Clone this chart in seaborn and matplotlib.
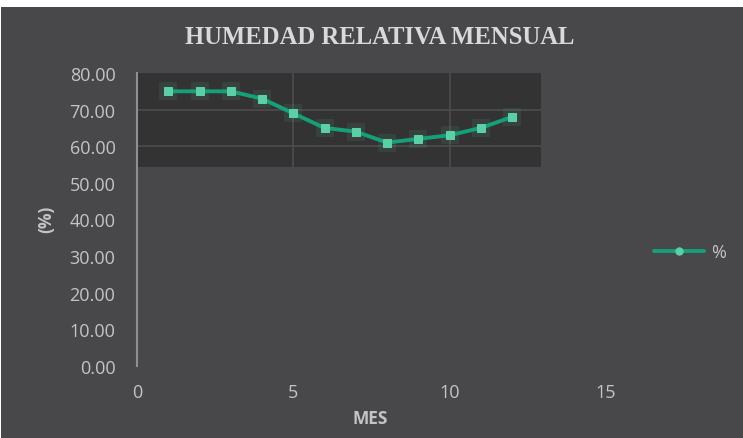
import matplotlib
matplotlib.use("Agg")
import matplotlib.pyplot as plt
from matplotlib.patches import Rectangle
from matplotlib.lines import Line2D
import seaborn as sns
import pandas as pd

months = [1, 2, 3, 4, 5, 6, 7, 8, 9, 10, 11, 12]
humidity = [75, 75, 75, 73, 69, 65, 64, 61, 62, 63, 65, 68]
x_ticks = [0, 5, 10, 15]
y_ticks = [0, 10, 20, 30, 40, 50, 60, 70, 80]
title = "HUMEDAD RELATIVA MENSUAL"
x_label = "MES"
y_label = "(%)"
series_name = "%"

sns.set_style("dark")
plt.rcParams['font.family'] = ['Open Sans', 'DejaVu Sans']

BG = "#48484a"
DARK = "#333333"
GRID = "#4d4d4d"
TXT = "#c4c4c4"
LINE = "#16a07a"
MARK = "#5ccfa6"

W, H = 743, 439
fig = plt.figure(figsize=(W / 100, H / 100), dpi=100)
fig.patch.set_facecolor("white")
fig.patches.append(Rectangle((1 / W, 0), 1 - 1 / W, (H - 8) / H, transform=fig.transFigure,
                             facecolor=BG, edgecolor="none", zorder=-10))

left = 137 / W
right = 633 / W
bottom = (H - 367) / H
top = (H - 74) / H
ax = fig.add_axes([left, bottom, right - left, top - bottom])
ax.set_facecolor("none")

xmax = (633 - 137) / 31.25
ax.set_xlim(0, xmax)
ax.set_ylim(0, 80)

# dark inner block with grid
ax.add_patch(Rectangle((0, 54.4), 12.93, 80 - 54.4, facecolor=DARK, edgecolor="none", zorder=0))
for yv in [60, 70]:
    ax.plot([0, 12.93], [yv, yv], color=GRID, lw=1.2, zorder=1)
for xv in [5, 10]:
    ax.plot([xv, xv], [54.4, 80], color=GRID, lw=1.2, zorder=1)

df = pd.DataFrame({"MES": months, "HR": humidity})
# soft glow around markers
sns.scatterplot(data=df, x="MES", y="HR", ax=ax, color=MARK, s=180, alpha=0.10,
                marker="s", linewidth=0, zorder=2, legend=False)
sns.lineplot(data=df, x="MES", y="HR", ax=ax, color=LINE, lw=2.8, marker="s",
             markersize=5.2, markerfacecolor=MARK, markeredgecolor=MARK, zorder=3)

ax.set_xticks(x_ticks)
ax.set_yticks(y_ticks)
ax.set_yticklabels([f"{v:.2f}" for v in y_ticks])
ax.tick_params(colors=TXT, labelsize=13, length=0)
ax.tick_params(axis="y", pad=15.5)
ax.tick_params(axis="x", pad=12.5)
for lab in ax.get_xticklabels() + ax.get_yticklabels():
    lab.set_color(TXT)
ax.grid(False)
for s in ["top", "right", "bottom"]:
    ax.spines[s].set_visible(False)
ax.spines["left"].set_color("#8f8f8f")
ax.spines["left"].set_linewidth(1.5)

ax.set_xlabel("")
ax.set_ylabel("")
fig.text(370 / W, 1 - 419 / H, x_label, color=TXT, fontsize=12.5,
         fontweight="bold", ha="center", va="center")
fig.text(46.5 / W, 1 - 219.5 / H, y_label, rotation=90, color=TXT, fontsize=12.5,
         fontweight="bold", ha="center", va="center")

fig.text(380 / W, 1 - 38 / H, title, color="#d9d9d9", fontsize=17.7,
         fontweight="bold", family="Liberation Serif", ha="center", va="center")

handle = Line2D([], [], color=LINE, lw=2.8, marker="o", markersize=5,
                markerfacecolor=MARK, markeredgecolor=MARK)
fig.legend([handle], [series_name], loc="center left",
           bbox_to_anchor=(638 / W, 1 - 253 / H), frameon=False,
           handlelength=2.75, fontsize=13, labelcolor=TXT, handletextpad=0.4)

fig.savefig("out.png", dpi=100, facecolor=fig.get_facecolor())
